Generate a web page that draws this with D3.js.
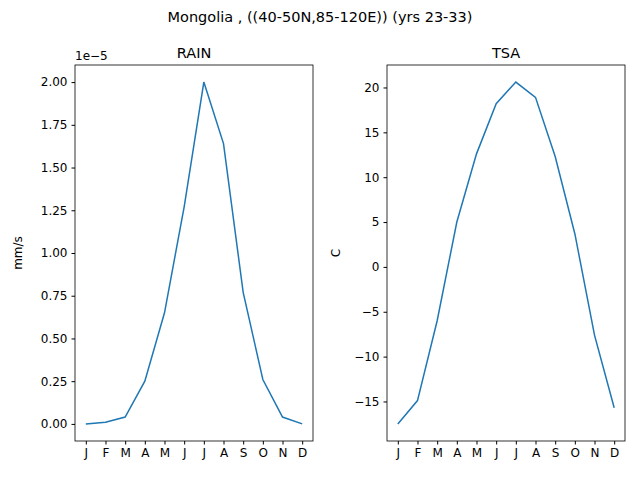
<!DOCTYPE html>
<html>
<head>
<meta charset="utf-8">
<script src="https://cdn.jsdelivr.net/npm/d3@7"></script>
<style>
body { margin: 0; background: #fff; }
text { font-family: "DejaVu Sans", sans-serif; fill: #000; }
</style>
</head>
<body>
<script>
const width = 640;
const height = 480;
const months = ["J", "F", "M", "A", "M", "J", "J", "A", "S", "O", "N", "D"];

const panels = [
    { title: "RAIN", unit: "mm/s", left: 75, right: 313, labelX: 22,
      values: [0.0, 0.01, 0.04, 0.25, 0.65, 1.27, 2.0, 1.64, 0.77, 0.26, 0.04, 0.0],
      ticks: d3.range(0, 2.01, 0.25), fmt: d3.format(".2f"), exp: "1e\u22125" },
    { title: "TSA", unit: "C", left: 387, right: 625, labelX: 340,
      values: [-17.5, -14.9, -6.0, 5.0, 12.6, 18.2, 20.6, 18.9, 12.3, 3.7, -7.6, -15.7],
      ticks: d3.range(-15, 21, 5), fmt: d => d < 0 ? "\u2212" + Math.abs(d) : d, exp: null }
];
const plotTop = 65, plotBottom = 441;

const svg = d3.select("body").append("svg")
    .attr("width", width)
    .attr("height", height);

svg.append("text")
    .attr("x", width / 2).attr("y", 22)
    .attr("text-anchor", "middle")
    .style("font-size", "14.5px")
    .text("Mongolia , ((40-50N,85-120E)) (yrs 23-33)");

panels.forEach(p => {
    const ext = d3.extent(p.values);
    const pad = (ext[1] - ext[0]) * 0.05;
    const x = d3.scaleLinear().domain([-0.55, 11.55]).range([p.left, p.right]);
    const y = d3.scaleLinear().domain([ext[0] - pad, ext[1] + pad]).range([plotBottom, plotTop]);

    const g = svg.append("g");

    g.append("g")
        .attr("transform", `translate(0,${plotBottom})`)
        .call(d3.axisBottom(x).tickValues(d3.range(12)).tickFormat(i => months[i]).tickSize(3.5).tickPadding(4))
        .call(a => a.select(".domain").remove())
        .selectAll("text").style("font-size", "12px").style("font-family", "DejaVu Sans");

    g.append("g")
        .attr("transform", `translate(${p.left},0)`)
        .call(d3.axisLeft(y).tickValues(p.ticks).tickFormat(p.fmt).tickSize(3.5).tickPadding(4))
        .call(a => a.select(".domain").remove())
        .selectAll("text").style("font-size", "12px").style("font-family", "DejaVu Sans");

    g.append("rect")
        .attr("x", p.left).attr("y", plotTop)
        .attr("width", p.right - p.left).attr("height", plotBottom - plotTop)
        .attr("fill", "none").attr("stroke", "#000").attr("stroke-width", 0.8);

    g.append("path")
        .datum(p.values)
        .attr("fill", "none")
        .attr("stroke", "#1f77b4")
        .attr("stroke-width", 1.5)
        .attr("d", d3.line().x((d, i) => x(i)).y(d => y(d)));

    g.append("text")
        .attr("x", (p.left + p.right) / 2).attr("y", plotTop - 7)
        .attr("text-anchor", "middle")
        .style("font-size", "14.5px")
        .text(p.title);

    g.append("text")
        .attr("transform", `translate(${p.labelX},${(plotTop + plotBottom) / 2}) rotate(-90)`)
        .attr("text-anchor", "middle")
        .style("font-size", "12px")
        .text(p.unit);

    if (p.exp) {
        g.append("text")
            .attr("x", p.left).attr("y", plotTop - 5)
            .style("font-size", "12px")
            .text(p.exp);
    }
});
</script>
</body>
</html>
